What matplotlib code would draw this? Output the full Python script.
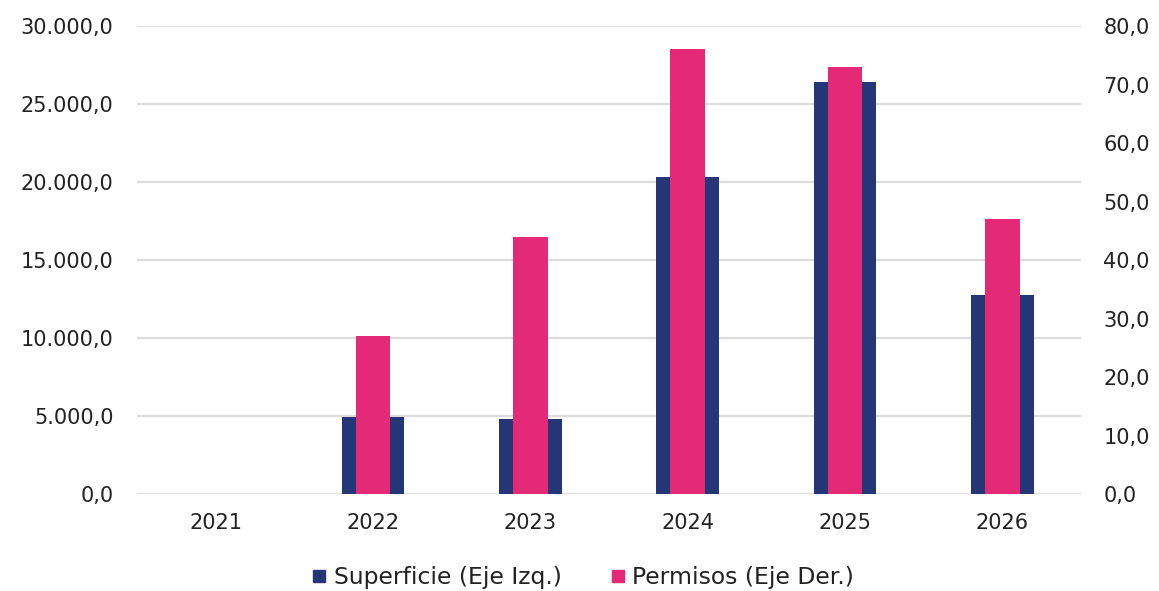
import numpy as np
import matplotlib.pyplot as plt
from matplotlib.ticker import FuncFormatter
from matplotlib.lines import Line2D

# data
years = ["2021", "2022", "2023", "2024", "2025", "2026"]
superficie = [0, 4950, 4800, 20320, 26390, 12780]
permisos = [0, 27.0, 44.0, 76.0, 73.0, 47.0]

navy = "#253676"
pink = "#E42A76"
grid_c = "#DCDCDC"
txt_c = "#222222"

def es_fmt(v, pos=None):
    s = f"{v:,.1f}"
    return s.replace(",", "X").replace(".", ",").replace("X", ".")

plt.rcParams['font.family'] = ['DejaVu Sans']

fig = plt.figure(figsize=(11.59, 5.91), dpi=100)
ax = fig.add_axes([0.1182, 0.1641, 0.8145, 0.7919])
ax2 = ax.twinx()

x = np.arange(len(years))
ax.bar(x, superficie, width=0.40, color=navy, zorder=2)
ax2.bar(x, permisos, width=0.22, color=pink, zorder=3)

ax.set_xlim(-0.5, len(years) - 0.5)
ax.set_ylim(0, 30000)
ax2.set_ylim(0, 80)
ax.set_yticks(np.arange(0, 30001, 5000))
ax2.set_yticks(np.arange(0, 81, 10))
ax.yaxis.set_major_formatter(FuncFormatter(es_fmt))
ax2.yaxis.set_major_formatter(FuncFormatter(es_fmt))
ax.set_xticks(x)
ax.set_xticklabels(years)

ax.grid(axis='y', color=grid_c, linewidth=1.6, zorder=0)
ax.set_axisbelow(True)
for a in (ax, ax2):
    for sp in a.spines.values():
        sp.set_visible(False)
    a.tick_params(length=0, labelsize=15, colors=txt_c)
ax.tick_params(axis='y', pad=17)
ax.tick_params(axis='x', pad=14)
ax2.tick_params(axis='y', pad=16)

handles = [Line2D([], [], marker='s', linestyle='none', markersize=9, color=navy),
           Line2D([], [], marker='s', linestyle='none', markersize=9, color=pink)]
fig.legend(handles, ["Superficie (Eje Izq.)", "Permisos (Eje Der.)"],
           loc='center', bbox_to_anchor=(0.5, 0.022), ncol=2, frameon=False,
           fontsize=16.9, handletextpad=0.0, handlelength=1.2,
           columnspacing=1.8, labelcolor=txt_c)

fig.savefig("out.png", dpi=100)
